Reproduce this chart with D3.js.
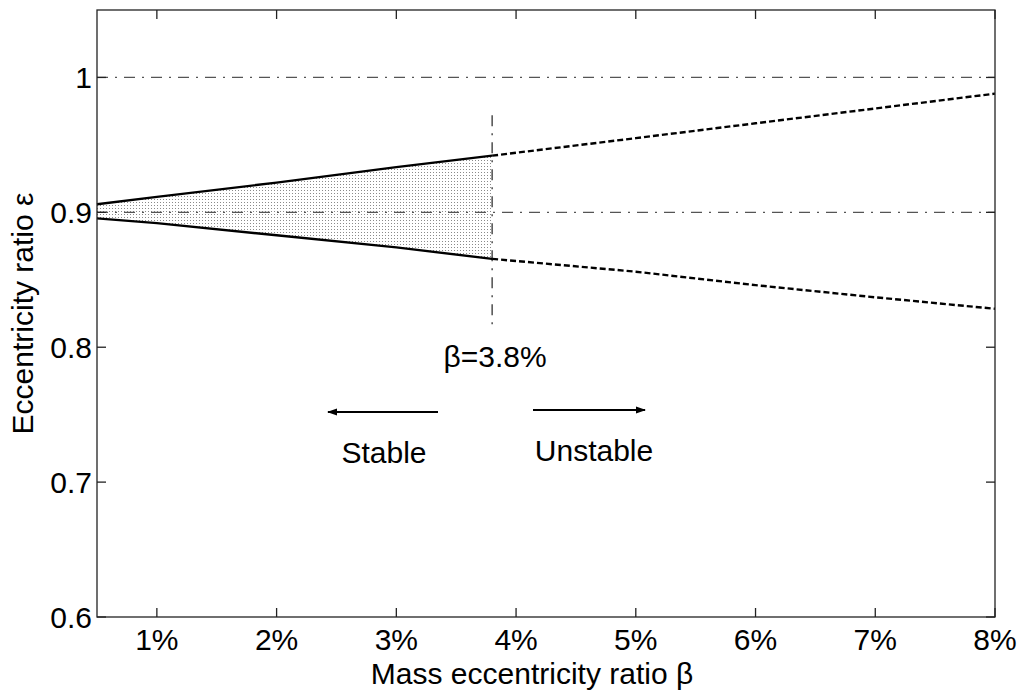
<!DOCTYPE html>
<html>
<head>
<meta charset="utf-8">
<script src="https://cdn.jsdelivr.net/npm/d3@7"></script>
<style>
  body { margin: 0; background: #fff; }
  text { font-family: "Liberation Sans", Arial, sans-serif; fill: #000; }
</style>
</head>
<body>
<div id="chart"></div>
<script>
// Données
const beta = [0.5, 1, 2, 3, 3.8, 5, 6, 7, 8];
const upper = [0.906, 0.9115, 0.922, 0.9335, 0.942, 0.955, 0.966, 0.977, 0.988];
const lower = [0.8955, 0.892, 0.883, 0.874, 0.8655, 0.856, 0.846, 0.837, 0.8285];
const betaLimit = 3.8;
const refLines = [1.0, 0.9];
const xTicks = [1, 2, 3, 4, 5, 6, 7, 8];
const yTicks = [0.6, 0.7, 0.8, 0.9, 1.0];
const limitSpan = [0.815, 0.972];

const width = 1024, height = 698;
const margin = { top: 10, right: 29, bottom: 81, left: 97 };
const fontSize = "30px";

const svg = d3.select("#chart").append("svg")
  .attr("width", width).attr("height", height);

const x = d3.scaleLinear().domain([0.5, 8]).range([margin.left, width - margin.right]);
const y = d3.scaleLinear().domain([0.6, 1.05]).range([height - margin.bottom, margin.top]);

// motif pointillé pour la zone stable
const defs = svg.append("defs");
const pat = defs.append("pattern")
  .attr("id", "dots").attr("width", 3).attr("height", 3)
  .attr("patternUnits", "userSpaceOnUse");
pat.append("rect").attr("width", 3).attr("height", 3).attr("fill", "#fff");
pat.append("rect").attr("x", 1).attr("y", 1).attr("width", 1).attr("height", 1).attr("fill", "#8a8a8a");

const pts = beta.map((b, i) => ({ b, u: upper[i], l: lower[i] }));
const stable = pts.filter(d => d.b <= betaLimit);
const unstable = pts.filter(d => d.b >= betaLimit);

svg.append("path")
  .datum(stable)
  .attr("fill", "url(#dots)")
  .attr("d", d3.area().x(d => x(d.b)).y0(d => y(d.l)).y1(d => y(d.u)));

// lignes de référence
svg.selectAll(".ref").data(refLines).enter().append("line")
  .attr("x1", x(0.5)).attr("x2", x(8))
  .attr("y1", d => y(d)).attr("y2", d => y(d))
  .attr("stroke", "#555").attr("stroke-width", 1.2)
  .attr("stroke-dasharray", "11,7,2,7");

svg.append("line")
  .attr("x1", x(betaLimit)).attr("x2", x(betaLimit))
  .attr("y1", y(limitSpan[1])).attr("y2", y(limitSpan[0]))
  .attr("stroke", "#222").attr("stroke-width", 1.2)
  .attr("stroke-dasharray", "11,7,2,7");

// courbes
const lineU = d3.line().x(d => x(d.b)).y(d => y(d.u));
const lineL = d3.line().x(d => x(d.b)).y(d => y(d.l));
[lineU, lineL].forEach(gen => {
  svg.append("path").datum(stable).attr("d", gen)
    .attr("fill", "none").attr("stroke", "#000").attr("stroke-width", 2.4);
  svg.append("path").datum(unstable).attr("d", gen)
    .attr("fill", "none").attr("stroke", "#000").attr("stroke-width", 2.4)
    .attr("stroke-dasharray", "6,3");
});

// axes avec graduations vers l'intérieur
const tick = 9;
const axisColor = "#222";
svg.append("rect")
  .attr("x", x(0.5)).attr("y", y(1.05))
  .attr("width", x(8) - x(0.5)).attr("height", y(0.6) - y(1.05))
  .attr("fill", "none").attr("stroke", axisColor).attr("stroke-width", 1.3);

xTicks.forEach(t => {
  svg.append("line").attr("x1", x(t)).attr("x2", x(t))
    .attr("y1", y(0.6)).attr("y2", y(0.6) - tick).attr("stroke", axisColor).attr("stroke-width", 1.3);
  svg.append("line").attr("x1", x(t)).attr("x2", x(t))
    .attr("y1", y(1.05)).attr("y2", y(1.05) + tick).attr("stroke", axisColor).attr("stroke-width", 1.3);
  svg.append("text").attr("x", x(t)).attr("y", 650)
    .attr("text-anchor", "middle").style("font-size", fontSize).text(t + "%");
});

yTicks.forEach(t => {
  svg.append("line").attr("x1", x(0.5)).attr("x2", x(0.5) + tick)
    .attr("y1", y(t)).attr("y2", y(t)).attr("stroke", axisColor).attr("stroke-width", 1.3);
  svg.append("line").attr("x1", x(8)).attr("x2", x(8) - tick)
    .attr("y1", y(t)).attr("y2", y(t)).attr("stroke", axisColor).attr("stroke-width", 1.3);
  svg.append("text").attr("x", 92).attr("y", y(t)).attr("dy", "0.36em")
    .attr("text-anchor", "end").style("font-size", fontSize)
    .text(t === 1 ? "1" : t.toFixed(1));
});

// titres des axes
svg.append("text").attr("x", 532).attr("y", 684)
  .attr("text-anchor", "middle").style("font-size", fontSize)
  .text("Mass eccentricity ratio β");

svg.append("text")
  .attr("transform", `translate(33, ${(y(0.6) + y(1.05)) / 2}) rotate(-90)`)
  .attr("text-anchor", "middle").style("font-size", fontSize)
  .text("Eccentricity ratio ε");

// annotations
svg.append("text").attr("x", x(betaLimit) + 3).attr("y", 367)
  .attr("text-anchor", "middle").style("font-size", fontSize).text("β=3.8%");

defs.append("marker").attr("id", "head")
  .attr("viewBox", "0 0 10 10").attr("refX", 9).attr("refY", 5)
  .attr("markerWidth", 14).attr("markerHeight", 10)
  .attr("markerUnits", "userSpaceOnUse")
  .attr("orient", "auto")
  .append("path").attr("d", "M0,1.5 L10,5 L0,8.5 z").attr("fill", "#000");

svg.append("line").attr("x1", 438).attr("x2", 328).attr("y1", 412).attr("y2", 412)
  .attr("stroke", "#000").attr("stroke-width", 2).attr("marker-end", "url(#head)");
svg.append("line").attr("x1", 533).attr("x2", 645).attr("y1", 410).attr("y2", 410)
  .attr("stroke", "#000").attr("stroke-width", 2).attr("marker-end", "url(#head)");

svg.append("text").attr("x", 384).attr("y", 463)
  .attr("text-anchor", "middle").style("font-size", fontSize).text("Stable");
svg.append("text").attr("x", 594).attr("y", 461)
  .attr("text-anchor", "middle").style("font-size", fontSize).text("Unstable");
</script>
</body>
</html>
